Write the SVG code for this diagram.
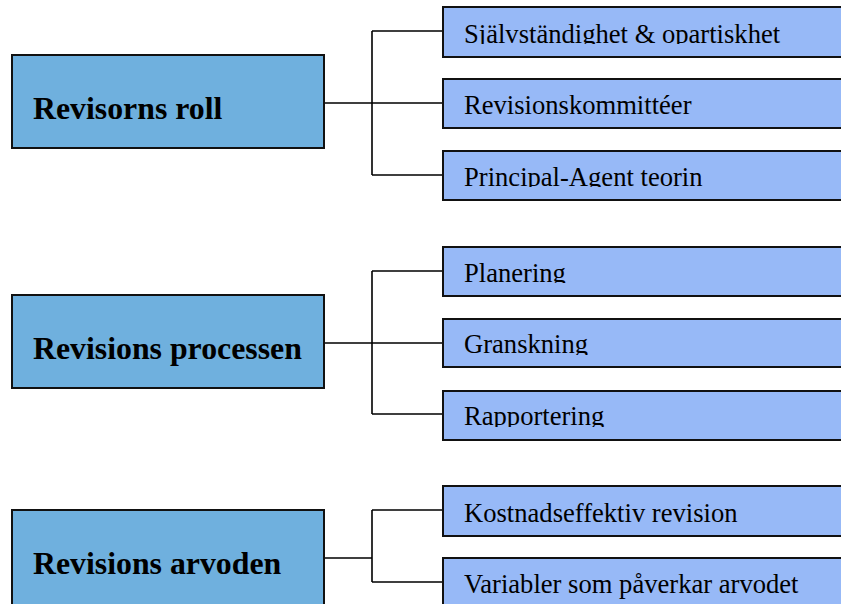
<svg xmlns="http://www.w3.org/2000/svg" width="841" height="604" viewBox="0 0 841 604">
<style>
.main rect{fill:#6FB0DE;stroke:#111;stroke-width:2}
.sub rect{fill:#97B9F7;stroke:#111;stroke-width:2}
.main text{font-family:"Liberation Serif","Times New Roman",serif;font-weight:bold;font-size:31.8px;fill:#000}
.sub text{font-family:"Liberation Serif","Times New Roman",serif;font-size:26.6px;fill:#000}
#connectors path{fill:none;stroke:#000;stroke-width:1.6}
</style>
<defs>
<clipPath id="c1"><rect x="444" y="8" width="400" height="36"/></clipPath>
<clipPath id="c3"><rect x="444" y="152" width="400" height="35"/></clipPath>
<clipPath id="c4"><rect x="444" y="248" width="400" height="35"/></clipPath>
<clipPath id="c5"><rect x="444" y="320" width="400" height="35"/></clipPath>
<clipPath id="c6"><rect x="444" y="392" width="400" height="35"/></clipPath>
</defs>
<rect width="841" height="604" fill="#fff"/>
<g id="connectors">
<path d="M324 103H372M372 31V175M372 31H444M372 103H444M372 175H444"/>
<path d="M324 343H372M372 271V414M372 271H444M372 343H444M372 414H444"/>
<path d="M324 558H372M372 510V582M372 510H444M372 582H444"/>
</g>
<g id="n-revisorns-roll" class="main"><rect x="12" y="55" width="312" height="93"/><text x="33" y="119">Revisorns roll</text></g>
<g id="n-revisions-processen" class="main"><rect x="12" y="295" width="312" height="93"/><text x="33" y="359">Revisions processen</text></g>
<g id="n-revisions-arvoden" class="main"><rect x="12" y="510" width="312" height="100"/><text x="33" y="574">Revisions arvoden</text></g>
<g id="n-sjalvstandighet" class="sub"><rect x="443" y="7" width="410" height="50"/><text x="464" y="42.5" clip-path="url(#c1)">Självständighet &amp; opartiskhet</text></g>
<g id="n-revisionskommitteer" class="sub"><rect x="443" y="79" width="410" height="49"/><text x="464" y="113.5">Revisionskommittéer</text></g>
<g id="n-principal-agent" class="sub"><rect x="443" y="151" width="410" height="49"/><text x="464" y="185.5" clip-path="url(#c3)">Principal-Agent teorin</text></g>
<g id="n-planering" class="sub"><rect x="443" y="247" width="410" height="49"/><text x="464" y="281.5" clip-path="url(#c4)">Planering</text></g>
<g id="n-granskning" class="sub"><rect x="443" y="319" width="410" height="48"/><text x="464" y="353" clip-path="url(#c5)">Granskning</text></g>
<g id="n-rapportering" class="sub"><rect x="443" y="391" width="410" height="49"/><text x="464" y="425" clip-path="url(#c6)">Rapportering</text></g>
<g id="n-kostnadseffektiv" class="sub"><rect x="443" y="486" width="410" height="50"/><text x="464" y="521.5">Kostnadseffektiv revision</text></g>
<g id="n-variabler" class="sub"><rect x="443" y="558" width="410" height="60"/><text x="464" y="593">Variabler som påverkar arvodet</text></g>
</svg>
